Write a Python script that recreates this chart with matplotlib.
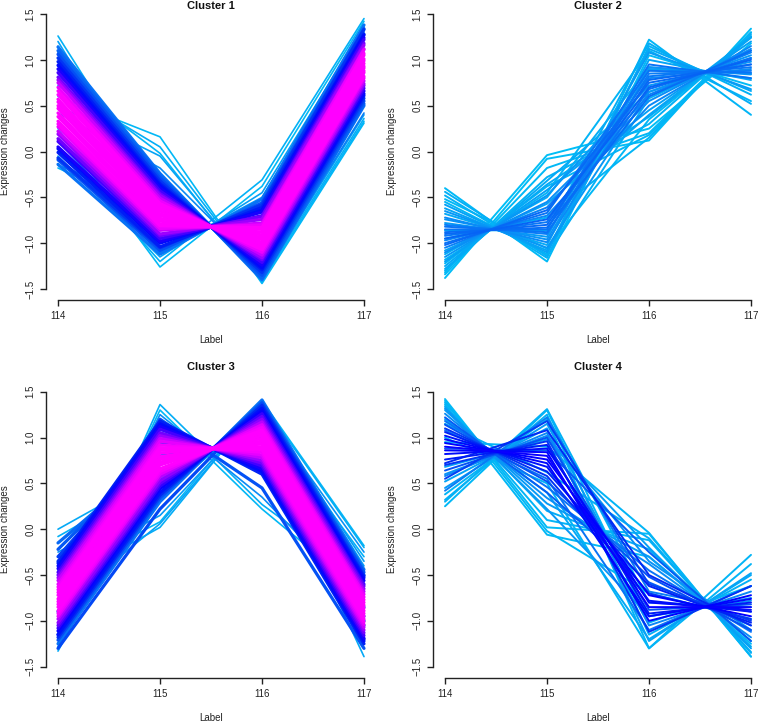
import numpy as np
import matplotlib
matplotlib.use("Agg")
import matplotlib.pyplot as plt
from matplotlib.colors import LinearSegmentedColormap

plt.rcParams['font.family'] = ['Liberation Sans', 'DejaVu Sans']

# ---------------- data ----------------
time_points = [114, 115, 116, 117]
x_tick_labels = ['114', '115', '116', '117']
y_ticks = [-1.5, -1.0, -0.5, 0.0, 0.5, 1.0, 1.5]
y_tick_labels = ['\u22121.5', '\u22121.0', '\u22120.5', '0.0', '0.5', '1.0', '1.5']
titles = ['Cluster 1', 'Cluster 2', 'Cluster 3', 'Cluster 4']
x_label = 'Label'
y_label = 'Expression changes'

# each row: expression at 114, 115, 116, 117
c1_profiles = [
    [-0.14, -1.12, -0.52, 1.38], [-0.09, -1.08, -0.56, 1.34], [-0.07, -1.05, -0.58, 1.33],
    [-0.01, -1.04, -0.61, 1.28], [0.03, -1.00, -0.64, 1.27], [0.05, -0.98, -0.66, 1.24],
    [0.11, -0.95, -0.70, 1.22], [0.14, -0.92, -0.71, 1.18], [0.19, -0.90, -0.74, 1.16],
    [0.22, -0.86, -0.78, 1.12], [0.27, -0.84, -0.80, 1.11], [0.30, -0.81, -0.83, 1.07],
    [0.33, -0.79, -0.85, 1.05], [0.38, -0.76, -0.88, 1.01], [0.42, -0.73, -0.91, 0.99],
    [0.47, -0.70, -0.94, 0.96], [0.50, -0.68, -0.96, 0.93], [0.54, -0.65, -0.99, 0.91],
    [0.57, -0.62, -1.02, 0.88], [0.62, -0.59, -1.05, 0.86], [0.66, -0.57, -1.07, 0.82],
    [0.70, -0.54, -1.10, 0.80], [0.75, -0.51, -1.13, 0.77], [0.78, -0.48, -1.16, 0.74],
    [0.81, -0.46, -1.18, 0.72], [0.86, -0.43, -1.21, 0.69], [0.90, -0.40, -1.24, 0.66],
    [0.94, -0.37, -1.27, 0.63], [0.98, -0.35, -1.29, 0.61], [1.02, -0.32, -1.32, 0.58],
    [1.06, -0.29, -1.35, 0.55], [1.10, -0.26, -1.38, 0.52], [1.14, -0.24, -1.40, 0.50],
    [1.26, -0.50, -1.14, 0.62], [1.20, -0.62, -1.02, 0.80], [1.15, -0.42, -1.22, 0.55],
    [1.08, -0.28, -1.36, 0.42], [0.60, 0.16, -1.44, 0.31], [0.72, 0.05, -1.40, 0.36],
    [0.50, -0.05, -1.38, 0.40], [0.82, -0.02, -1.42, 0.33], [0.42, -0.18, -1.30, 0.52],
    [-0.18, -0.70, -0.94, 0.95], [-0.10, -0.82, -0.80, 1.08], [-0.15, -0.58, -1.05, 0.85],
    [0.00, -0.92, -0.70, 1.18], [0.25, -1.26, -0.38, 1.42], [0.05, -1.20, -0.31, 1.45],
    [0.12, -1.10, -0.50, 1.30], [-0.05, -1.15, -0.45, 1.36],
]
c1_membership = [
    .30, .36, .42, .47, .52, .58, .64, .70, .76, .82, .88, .92, .95, .97, .99, 1.0, 1.0,
    .99, .97, .95, .92, .88, .82, .76, .70, .64, .58, .52, .47, .42, .37, .33, .30,
    .08, .15, .22, .28, .05, .10, .14, .06, .25, .06, .18, .12, .24, .04, .08, .20, .16,
]

c2_profiles = [
    [-0.40, -1.20, 1.05, 0.72], [-0.48, -1.16, 1.15, 0.62], [-0.55, -1.12, 1.22, 0.40],
    [-0.62, -1.08, 1.00, 0.78], [-0.68, -1.02, 1.12, 0.66], [-0.74, -0.96, 0.92, 0.84],
    [-0.80, -0.90, 0.85, 0.88], [-0.85, -0.85, 0.95, 0.80], [-0.90, -0.80, 0.78, 0.95],
    [-0.95, -0.74, 0.70, 1.00], [-1.00, -0.67, 0.88, 0.86], [-1.05, -0.61, 0.62, 1.08],
    [-1.10, -0.55, 0.55, 1.12], [-1.15, -0.48, 0.72, 0.98], [-1.20, -0.42, 0.45, 1.20],
    [-1.25, -0.36, 0.38, 1.24], [-1.30, -0.28, 0.30, 1.28], [-1.34, -0.18, 0.20, 1.30],
    [-1.38, -0.08, 0.12, 1.34], [-1.32, -0.04, 0.25, 1.18], [-0.82, -0.88, 0.68, 1.02],
    [-0.88, -0.83, 0.60, 1.10], [-0.92, -0.77, 0.82, 0.92], [-0.97, -0.70, 0.50, 1.15],
    [-1.02, -0.64, 0.75, 0.95], [-0.78, -0.93, 1.08, 0.68], [-0.72, -0.99, 0.80, 0.90],
    [-1.08, -0.57, 0.40, 1.25], [-0.58, -1.10, 0.90, 0.85], [-0.65, -1.05, 0.65, 1.05],
    [-1.12, -0.50, 0.92, 0.80], [-1.18, -0.45, 1.10, 0.55], [-1.22, -0.38, 0.18, 1.26],
    [-0.44, -1.14, 0.58, 1.10], [-0.52, -1.06, 0.35, 1.25], [-0.95, -0.72, 0.15, 1.30],
    [-1.28, -0.32, 0.65, 1.02], [-0.86, -0.86, 1.18, 0.52],
]
c2_membership = [
    .04, .08, .06, .14, .12, .22, .28, .30, .32, .33, .30, .27, .24, .20, .16, .12, .08, .05,
    .03, .02, .30, .31, .29, .26, .32, .18, .25, .14, .15, .20, .10, .07, .06, .09, .05, .06,
    .11, .10,
]

c3_profiles = [
    [-1.25, 0.30, 1.41, -0.44], [-1.21, 0.34, 1.38, -0.47], [-1.18, 0.37, 1.35, -0.51],
    [-1.15, 0.40, 1.32, -0.53], [-1.11, 0.44, 1.29, -0.56], [-1.08, 0.47, 1.26, -0.60],
    [-1.05, 0.50, 1.23, -0.62], [-1.02, 0.53, 1.20, -0.65], [-0.98, 0.57, 1.17, -0.68],
    [-0.95, 0.60, 1.14, -0.71], [-0.92, 0.63, 1.11, -0.74], [-0.89, 0.66, 1.08, -0.77],
    [-0.85, 0.70, 1.05, -0.80], [-0.82, 0.73, 1.02, -0.83], [-0.79, 0.76, 0.99, -0.86],
    [-0.76, 0.79, 0.96, -0.89], [-0.72, 0.83, 0.93, -0.92], [-0.69, 0.86, 0.90, -0.95],
    [-0.66, 0.89, 0.87, -0.98], [-0.63, 0.92, 0.84, -1.01], [-0.60, 0.96, 0.81, -1.04],
    [-0.56, 0.99, 0.78, -1.07], [-0.53, 1.02, 0.75, -1.10], [-0.50, 1.05, 0.72, -1.13],
    [-0.47, 1.09, 0.69, -1.16], [-0.43, 1.12, 0.66, -1.19], [-0.40, 1.15, 0.63, -1.22],
    [-0.37, 1.18, 0.60, -1.25],
    [-0.30, 0.95, 0.80, -1.05], [-0.22, 0.88, 0.86, -0.95], [-0.15, 0.80, 0.95, -0.85],
    [-1.30, 0.22, 1.36, -0.50], [-0.35, 1.05, 0.72, -1.20], [-1.15, 0.62, 1.12, -1.00],
    [-0.90, 1.20, 0.45, -1.30],
    [0.00, 0.62, 1.12, -0.45], [-0.08, 0.55, 1.20, -0.30], [-0.15, 0.70, 1.05, -0.55],
    [-0.60, 0.02, 1.38, -0.20], [-0.50, 0.08, 1.40, -0.18], [-0.45, 0.15, 1.33, -0.35],
    [-1.12, 1.36, 0.27, -0.55], [-1.05, 1.30, 0.22, -0.70], [-1.33, 0.78, 1.00, -1.39],
    [-1.28, 0.95, 0.85, -1.30], [-0.95, 1.25, 0.35, -0.80], [-0.25, 0.35, 1.30, -0.25],
    [-0.85, 0.06, 1.36, -0.40], [-1.25, 0.45, 1.25, -0.75],
]
c3_membership = [
    .30, .37, .44, .50, .56, .62, .68, .74, .80, .86, .90, .94, .97, .99, 1.0, 1.0, .99, .97,
    .94, .90, .86, .82, .76, .70, .64, .58, .52, .46,
    .40, .35, .32, .38, .44, .40, .36,
    .12, .08, .20, .10, .05, .18, .10, .05, .12, .20, .25, .22, .15, .28,
]

c4_profiles = [
    [0.25, 1.30, -1.02, -0.62], [0.32, 1.25, -1.15, -0.55], [0.38, 1.20, -1.30, -0.28],
    [0.45, 1.15, -0.95, -0.75], [0.52, 1.10, -1.22, -0.48], [0.58, 1.05, -1.05, -0.68],
    [0.64, 1.00, -0.88, -0.82], [0.70, 0.96, -1.12, -0.62], [0.76, 0.92, -0.92, -0.80],
    [0.82, 0.88, -0.80, -0.88], [0.86, 0.84, -1.00, -0.72], [0.90, 0.80, -0.85, -0.85],
    [0.94, 0.76, -0.72, -0.95], [0.98, 0.72, -0.95, -0.76], [1.02, 0.68, -0.78, -0.90],
    [1.06, 0.63, -0.62, -1.02], [1.10, 0.58, -0.70, -0.98], [1.14, 0.52, -0.52, -1.10],
    [1.18, 0.46, -0.45, -1.12], [1.22, 0.40, -0.58, -1.05], [1.26, 0.34, -0.38, -1.18],
    [1.30, 0.28, -0.30, -1.22], [1.34, 0.20, -0.22, -1.28], [1.38, 0.10, -0.12, -1.34],
    [1.42, 0.02, -0.05, -1.39], [1.36, -0.06, -0.30, -1.25], [0.30, 1.31, -0.80, -0.85],
    [0.95, 0.90, -0.04, -1.39], [1.15, 0.62, -0.10, -1.35], [0.60, 1.02, -0.35, -1.10],
    [1.00, 0.50, -1.30, -0.38], [1.40, -0.02, -0.70, -0.98], [1.20, 0.40, -1.20, -0.50],
    [0.55, 1.18, -0.60, -1.00], [0.72, 1.08, -0.50, -1.05], [0.42, 1.22, -0.68, -0.90],
    [0.88, 0.86, -0.25, -1.22], [1.08, 0.55, -1.10, -0.62], [0.68, 0.98, -0.20, -1.30],
    [1.32, 0.22, -0.95, -0.78],
]
c4_membership = [
    .05, .08, .06, .18, .14, .26, .36, .42, .48, .52, .54, .56, .55, .53, .50, .46, .42, .36,
    .30, .34, .24, .18, .10, .07, .04, .05, .08, .06, .10, .22, .07, .05, .12, .40, .44, .28,
    .34, .30, .16, .20,
]

# ---------------- styling / layout ----------------
cmap = LinearSegmentedColormap.from_list(
    'membership',
    [(0.0, '#00C2F6'), (0.25, '#0A8CF6'), (0.45, '#0024F4'), (0.55, '#0000FF'),
     (0.70, '#7000FF'), (0.85, '#E000FF'), (0.92, '#FF00FF'), (1.0, '#FF00FF')])

W, H = 760, 723
fig = plt.figure(figsize=(W / 100, H / 100), dpi=100)

# pixel geometry of each panel: x of 114, x of 117, y of 1.5, y of -1.5, title y
panels = [
    (58, 364, 14, 289, 6),
    (445, 751, 14, 289, 6),
    (58, 364, 391.7, 666.7, 366.7),
    (445, 751, 391.7, 666.7, 366.7),
]
# (profiles, memberships, thin width, thick width)
data_sets = [(c1_profiles, c1_membership, 1.2, 2.3), (c2_profiles, c2_membership, 1.4, 1.4),
             (c3_profiles, c3_membership, 1.2, 2.3), (c4_profiles, c4_membership, 1.4, 1.4)]

for (x0, x1, ytop, ybot, ty), (prof, mem, lw_thin, lw_thick), title in zip(panels, data_sets, titles):
    padx = 0.04 * (x1 - x0)
    pady = 0.04 * (ybot - ytop)
    left, right = x0 - padx, x1 + padx
    top, bottom = ytop - pady, ybot + pady
    ax = fig.add_axes([left / W, 1 - bottom / H, (right - left) / W, (bottom - top) / H])
    ax.set_xlim(114 - 0.12, 117 + 0.12)
    ax.set_ylim(-1.5 - 0.12, 1.5 + 0.12)
    ax.patch.set_alpha(0)

    order = np.argsort(mem, kind='stable')
    for i in order:
        lw = lw_thin if mem[i] < 0.3 else lw_thick
        ax.plot(time_points, prof[i], color=cmap(mem[i]), lw=lw,
                solid_joinstyle='round', solid_capstyle='round')

    for s in ['top', 'right']:
        ax.spines[s].set_visible(False)
    ax.spines['left'].set_bounds(-1.5, 1.5)
    ax.spines['bottom'].set_bounds(114, 117)
    for s in ['left', 'bottom']:
        ax.spines[s].set_linewidth(1.0)
        ax.spines[s].set_color('#222222')

    ax.set_xticks(time_points)
    ax.set_xticklabels(x_tick_labels)
    ax.set_yticks(y_ticks)
    ax.set_yticklabels(y_tick_labels)
    ax.tick_params(direction='out', length=4.3, width=1.0, color='#222222',
                   labelsize=7, labelcolor='#222222')
    ax.tick_params(axis='x', pad=3.5)
    ax.tick_params(axis='y', pad=3.2)
    for lab in ax.get_yticklabels():
        lab.set_rotation(90)
        lab.set_va('center')

    ax.set_xlabel(x_label, fontsize=7, color='#222222')
    ax.xaxis.label.set_va('center')
    ax.xaxis.set_label_coords(0.5, -40.0 / (bottom - top))
    ax.set_ylabel(y_label, fontsize=7, color='#222222')
    ax.yaxis.label.set_va('center')
    ax.yaxis.set_label_coords(-40.5 / (right - left), 0.5)

    ax.text(0.5, (bottom - ty) / (bottom - top), title, transform=ax.transAxes,
            ha='center', va='center', fontsize=8, fontweight='bold', color='#111111')

fig.savefig('out.png', dpi=100)
